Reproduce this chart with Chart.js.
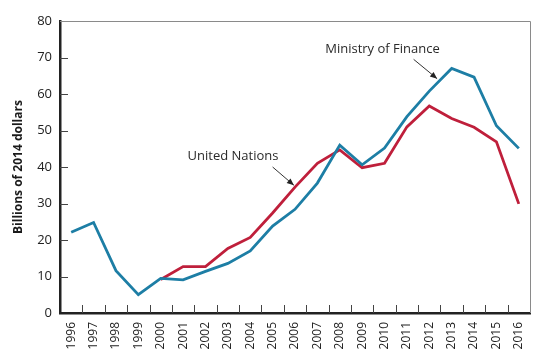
<!DOCTYPE html>
<html>
<head>
<meta charset="utf-8">
<script src="https://cdn.jsdelivr.net/npm/chart.js@4"></script>
<style>
  html, body { margin: 0; padding: 0; background: #fff; }
  #wrap { width: 543px; height: 356px; }
</style>
</head>
<body>
<div id="wrap"><canvas id="c" width="543" height="356"></canvas></div>
<script>
const years = ['1996','1997','1998','1999','2000','2001','2002','2003','2004','2005','2006',
               '2007','2008','2009','2010','2011','2012','2013','2014','2015','2016'];
const ministryOfFinance = [22.1, 24.8, 11.6, 5.0, 9.5, 9.1, 11.4, 13.6, 17.0, 23.8, 28.4,
                           35.6, 46.0, 40.6, 45.2, 53.8, 60.8, 67.0, 64.6, 51.3, 45.1];
const unitedNations = [null, null, null, null, 9.2, 12.7, 12.7, 17.7, 20.7, 27.4, 34.5,
                       41.0, 44.7, 39.8, 41.0, 51.0, 56.7, 53.3, 50.9, 46.9, 29.9];
const yTicks = [0, 10, 20, 30, 40, 50, 60, 70, 80];
const yTitle = 'Billions of 2014 dollars';

const BLUE = '#1d7ea5';
const RED = '#bf1f3b';

// annotation labels, anchored in data coordinates (category index, value)
const notes = [
  { text: 'United Nations', tx: 5.2, ty: 43.0, ax0: 9.0, ay0: 40.0, ax1: 9.95, ay1: 35.0 },
  { text: 'Ministry of Finance', tx: 11.35, ty: 72.2, ax0: 15.3, ay0: 69.5, ax1: 16.35, ay1: 64.2 }
];

const framePlugin = {
  id: 'frame',
  afterDatasetsDraw(chart) {
    const ctx = chart.ctx;
    const a = chart.chartArea;
    const xs = chart.scales.x, ys = chart.scales.y;
    ctx.save();
    // top & right frame lines
    ctx.strokeStyle = '#8a8a8a';
    ctx.lineWidth = 1;
    ctx.beginPath();
    ctx.moveTo(a.left, a.top + 0.5);
    ctx.lineTo(a.right + 0.5, a.top + 0.5);
    ctx.lineTo(a.right + 0.5, a.bottom);
    ctx.stroke();
    // inward tick marks
    ctx.strokeStyle = '#444';
    ctx.lineWidth = 1;
    ctx.beginPath();
    for (let i = 0; i < years.length - 1; i++) {
      const x = Math.round((xs.getPixelForValue(i) + xs.getPixelForValue(i + 1)) / 2) + 0.5;
      ctx.moveTo(x, a.bottom);
      ctx.lineTo(x, a.bottom - 8);
    }
    yTicks.forEach(v => {
      if (v === 0 || v === 80) return;
      const y = Math.round(ys.getPixelForValue(v)) + 0.5;
      ctx.moveTo(a.left, y);
      ctx.lineTo(a.left + 8, y);
    });
    ctx.stroke();
    // annotations
    ctx.font = '13px "Open Sans"';
    ctx.fillStyle = '#2a2a2a';
    ctx.textBaseline = 'middle';
    ctx.textAlign = 'left';
    notes.forEach(n => {
      ctx.fillText(n.text, xs.getPixelForValue(n.tx), ys.getPixelForValue(n.ty));
      const x0 = xs.getPixelForValue(n.ax0), y0 = ys.getPixelForValue(n.ay0);
      const x1 = xs.getPixelForValue(n.ax1), y1 = ys.getPixelForValue(n.ay1);
      ctx.strokeStyle = '#333';
      ctx.lineWidth = 1;
      ctx.beginPath();
      ctx.moveTo(x0, y0);
      ctx.lineTo(x1, y1);
      ctx.stroke();
      const ang = Math.atan2(y1 - y0, x1 - x0);
      const L = 7, W = 3;
      ctx.beginPath();
      ctx.moveTo(x1, y1);
      ctx.lineTo(x1 - L * Math.cos(ang) + W * Math.sin(ang), y1 - L * Math.sin(ang) - W * Math.cos(ang));
      ctx.lineTo(x1 - L * Math.cos(ang) - W * Math.sin(ang), y1 - L * Math.sin(ang) + W * Math.cos(ang));
      ctx.closePath();
      ctx.fillStyle = '#222';
      ctx.fill();
      ctx.fillStyle = '#2a2a2a';
    });
    ctx.restore();
  }
};

new Chart(document.getElementById('c'), {
  type: 'line',
  data: {
    labels: years,
    datasets: [
      { label: 'Ministry of Finance', data: ministryOfFinance, borderColor: BLUE,
        borderWidth: 2.8, pointRadius: 0, tension: 0, fill: false },
      { label: 'United Nations', data: unitedNations, borderColor: RED,
        borderWidth: 2.8, pointRadius: 0, tension: 0, fill: false, spanGaps: false }
    ]
  },
  options: {
    responsive: false,
    animation: false,
    devicePixelRatio: 1,
    layout: { padding: { top: 21, right: 13, left: 0, bottom: 0 } },
    plugins: { legend: { display: false }, tooltip: { enabled: false } },
    scales: {
      x: {
        type: 'category',
        offset: true,
        grid: { display: false, drawTicks: false },
        border: { display: true, color: '#222', width: 2.5 },
        ticks: {
          color: '#222', font: { family: 'Open Sans', size: 12 },
          minRotation: 90, maxRotation: 90, padding: 9, autoSkip: false
        },
        afterFit(s) { s.height = 43; }
      },
      y: {
        min: 0, max: 80,
        afterBuildTicks(s) { s.ticks = yTicks.map(v => ({ value: v })); },
        grid: { display: false, drawTicks: false },
        border: { display: true, color: '#222', width: 2.5 },
        ticks: { color: '#222', font: { family: 'Open Sans', size: 13 }, padding: 8 },
        title: { display: true, text: yTitle, color: '#1a1a1a',
                 font: { family: 'Open Sans', size: 12, weight: 'bold' },
                 padding: { top: 11, bottom: 0 } },
        afterFit(s) { s.width = 60; }
      }
    }
  },
  plugins: [framePlugin]
});
</script>
</body>
</html>
